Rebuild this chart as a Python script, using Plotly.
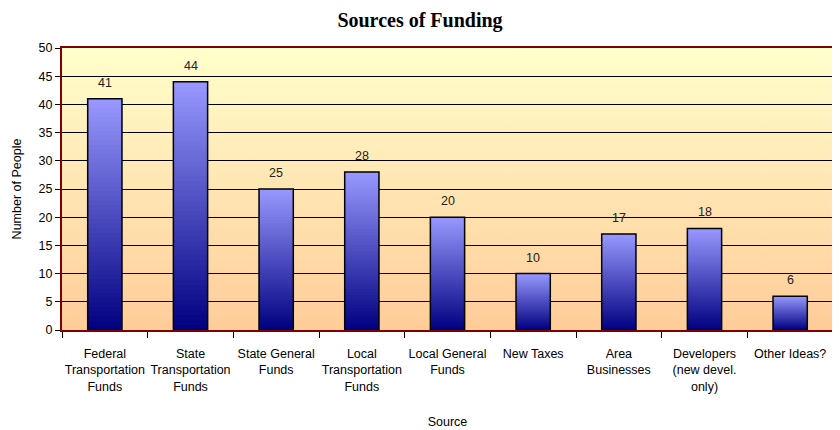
import plotly.graph_objects as go

categories = ["Federal<br>Transportation<br>Funds", "State<br>Transportation<br>Funds",
              "State General<br>Funds", "Local<br>Transportation<br>Funds",
              "Local General<br>Funds", "New Taxes", "Area<br>Businesses",
              "Developers<br>(new devel.<br>only)", "Other Ideas?"]
values = [41, 44, 25, 28, 20, 10, 17, 18, 6]
y_ticks = [0, 5, 10, 15, 20, 25, 30, 35, 40, 45, 50]

FONT = "Liberation Sans Narrow, Arial Narrow, Liberation Sans, Arial"

def lerp(c1, c2, t):
    return "rgb(%d,%d,%d)" % tuple(round(a + (b - a) * t) for a, b in zip(c1, c2))

top_c = (0x99, 0x99, 0xFF)
bot_c = (0x00, 0x00, 0x80)
N = 50

fig = go.Figure()
# nested bars: tallest (lightest) first, shorter darker ones on top -> smooth gradient
for k in range(N):
    frac = (N - k) / N
    t = (N - k - 0.5) / N
    fig.add_trace(go.Bar(
        x=categories, y=[v * frac for v in values],
        marker=dict(color=lerp(bot_c, top_c, t), line=dict(width=0)),
        width=0.4, hoverinfo="skip", showlegend=False))

fig.add_trace(go.Bar(
    x=categories, y=values, width=0.4,
    marker=dict(color="rgba(0,0,0,0)", line=dict(color="black", width=1.5)),
    showlegend=False))

for c, v in zip(categories, values):
    fig.add_annotation(x=c, y=v, text=str(v), showarrow=False, yanchor="bottom",
                       yshift=7, font=dict(family=FONT, size=12.5, color="#222"))

bg_svg = ("data:image/svg+xml;utf8,"
          "<svg xmlns='http://www.w3.org/2000/svg' width='10' height='100' preserveAspectRatio='none'>"
          "<defs><linearGradient id='g' x1='0' y1='0' x2='0' y2='1'>"
          "<stop offset='0' stop-color='%23FFFFCC'/><stop offset='1' stop-color='%23FFCC99'/>"
          "</linearGradient></defs><rect width='10' height='100' fill='url(%23g)'/></svg>")

fig.add_layout_image(dict(source=bg_svg, xref="paper", yref="paper", x=0, y=1,
                          sizex=1, sizey=1, sizing="stretch", layer="below",
                          xanchor="left", yanchor="top"))

W, H = 832, 422
fig.update_layout(
    width=W, height=H,
    margin=dict(l=54, r=7, t=40, b=100),
    paper_bgcolor="white", plot_bgcolor="rgba(0,0,0,0)",
    barmode="overlay",
    title=dict(text="<b>Sources of Funding</b>", x=412 / W, xanchor="center",
               y=1 - 12 / H, yanchor="middle",
               font=dict(family="Liberation Serif, Times New Roman", size=20, color="black")),
    font=dict(family=FONT, size=12.5, color="black"),
    xaxis=dict(title=dict(text="Source", font=dict(size=12.5), standoff=25),
               showgrid=False, ticks="outside", tickson="boundaries", ticklen=6,
               tickcolor="black", showline=True, linecolor="#800000", linewidth=2,
               mirror=True, tickfont=dict(size=12.5), tickangle=0, automargin=False,
               ticklabelstandoff=11),
    yaxis=dict(title=dict(text="Number of People", font=dict(size=12.5), standoff=14),
               range=[0, 50], tickvals=y_ticks, showgrid=True, gridcolor="black",
               gridwidth=1, ticks="outside", ticklen=5, tickcolor="black",
               showline=True, linecolor="#800000", linewidth=2, mirror=True,
               zeroline=False, tickfont=dict(size=12.5), automargin=False),
)

fig.write_html("out.html")
